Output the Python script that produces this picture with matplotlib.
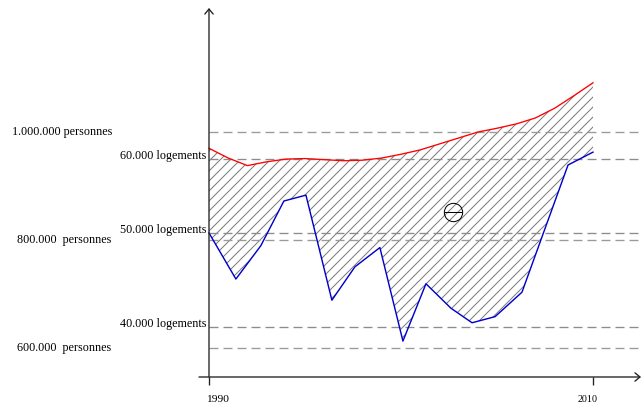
# Schéma : population (personnes) et logements, 1990-2010
import numpy as np
import matplotlib
matplotlib.use("Agg")
import matplotlib.pyplot as plt

# population (red), one value per year
pop_years = list(range(1990, 2011))
pop_values = [969000, 951000, 937000, 944000, 949000, 950000, 948000, 946000,
              947000, 951000, 958000, 966000, 977000, 988000, 999000, 1006000,
              1014000, 1025000, 1043000, 1066000, 1090000]

# logements (blue)
log_years = [1990.0, 1991.4, 1992.7, 1993.9, 1995.05, 1996.4, 1997.6, 1998.9,
             2000.1, 2001.3, 2002.6, 2003.7, 2004.9, 2006.3, 2008.7, 2010.0]
log_values = [50000, 45100, 48650, 54350, 55150, 42850, 46400, 48450,
              38500, 44600, 42000, 40450, 41100, 43700, 59250, 61000]

# reference levels
pop_levels = [1000000, 800000, 600000]
pop_labels = ["1.000.000 personnes", "800.000  personnes", "600.000  personnes"]
log_levels = [40000, 50000, 60000]
log_labels = ["40.000 logements", "50.000 logements", "60.000 logements"]
# where each logement level sits on the population scale of the drawing
log_levels_on_pop_scale = [638800, 812500, 948300]

deficit_year, deficit_pop = 2002.7, 851000


def log_to_axis(v):
    v = np.asarray(v, dtype=float)
    lv = np.array(log_levels, dtype=float)
    av = np.array(log_levels_on_pop_scale, dtype=float)
    out = np.interp(v, lv, av)
    lo = v < lv[0]
    hi = v > lv[-1]
    out[lo] = av[0] + (v[lo] - lv[0]) * (av[1] - av[0]) / (lv[1] - lv[0])
    out[hi] = av[-1] + (v[hi] - lv[-1]) * (av[-1] - av[-2]) / (lv[-1] - lv[-2])
    return out


plt.rcParams["font.family"] = ["Liberation Serif", "DejaVu Serif"]
plt.rcParams["hatch.linewidth"] = 0.6
plt.rcParams["lines.scale_dashes"] = False

fig = plt.figure(figsize=(641 / 120, 408 / 120), dpi=120)
ax = fig.add_axes([199 / 641, 31 / 408, 442 / 641, 369 / 408])
ax.set_xlim(1989.479, 2012.5)
ax.set_ylim(546400, 1228200)
for s in ax.spines.values():
    s.set_visible(False)

log_y = log_to_axis(log_values)

# hatched area between the two curves
ax.fill(np.concatenate([pop_years, log_years[::-1]]),
        np.concatenate([pop_values, log_y[::-1]]),
        facecolor="none", edgecolor="#7a7a7a", linewidth=0, hatch="////", zorder=1)

# dashed reference lines
for lvl in pop_levels:
    ax.hlines(lvl, 1990, 2012.5, colors="#9a9a9a", linewidth=0.8,
              linestyles=(0, (5.4, 3.0)), zorder=2)
for lvl in log_to_axis(log_levels):
    ax.hlines(lvl, 1990, 2012.5, colors="#8c8c8c", linewidth=0.8,
              linestyles=(0, (5.4, 3.0)), zorder=2)

ax.plot(pop_years, pop_values, color="#ff0000", linewidth=0.8, zorder=3)
ax.plot(log_years, log_y, color="#0000cc", linewidth=0.85, zorder=3)

# deficit symbol
ax.plot(deficit_year, deficit_pop, "o", ms=11, mfc="none", mec="black", mew=0.6, zorder=4)
ax.plot(deficit_year, deficit_pop, "_", ms=11, mec="black", mew=0.6, zorder=4)

# axes with arrows
arrow = dict(arrowstyle="->,head_length=0.3,head_width=0.25", lw=0.8, color="#222222",
             shrinkA=0, shrinkB=0)
ax.annotate("", xy=(1990, 1.0), xycoords=("data", "axes fraction"),
            xytext=(1990, 0.0), textcoords=("data", "axes fraction"), arrowprops=arrow)
ax.annotate("", xy=(1.0, 0.0), xycoords="axes fraction",
            xytext=(0.0, 0.0), textcoords="axes fraction", arrowprops=arrow)

ax.set_yticks([])
ax.set_xticks([1990, 2010])
ax.set_xticklabels([])
ax.tick_params(axis="x", direction="out", length=4.8, width=0.8, color="#222222")

ax.annotate("1990", xy=(1990, 0), xycoords=("data", "axes fraction"),
            xytext=(-3, -22), textcoords="offset pixels", ha="left", va="center", fontsize=6.9)
ax.annotate("2010", xy=(2010, 0), xycoords=("data", "axes fraction"),
            xytext=(-5, -22), textcoords="offset pixels", ha="center", va="center", fontsize=6.0)

# left side labels
for lvl, lab in zip(pop_levels, pop_labels):
    x0 = 12 if lvl >= 1000000 else 17
    ax.annotate(lab, xy=(x0, lvl), xycoords=("figure pixels", "data"),
                ha="left", va="center", fontsize=7.3)
for lvl, lab in zip(log_to_axis(log_levels), log_labels):
    ax.annotate(lab, xy=(206, lvl), xycoords=("figure pixels", "data"),
                xytext=(0, 3), textcoords="offset pixels",
                ha="right", va="center", fontsize=7.3)

fig.savefig("out.png", dpi=120)
